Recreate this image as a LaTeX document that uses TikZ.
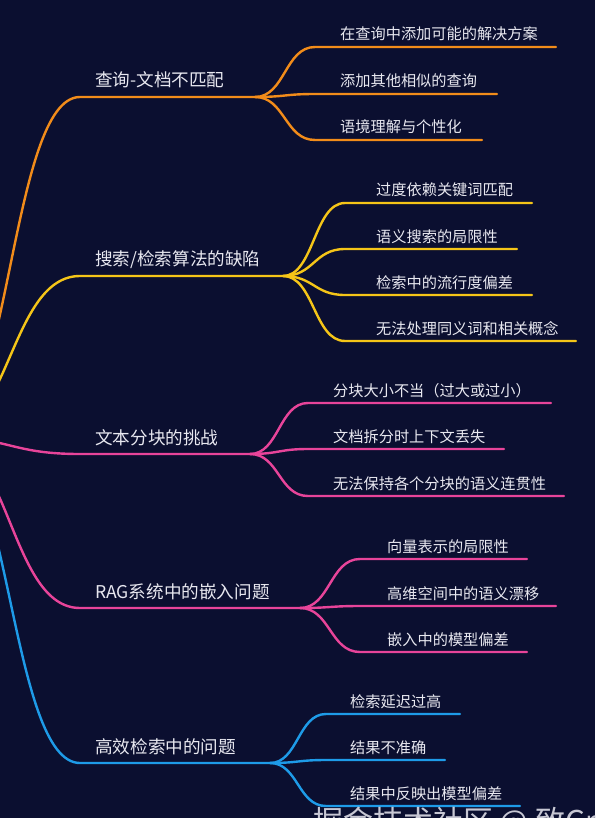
\documentclass[tikz,border=0pt]{standalone}
\usepackage{fontspec}
\newfontfamily\cjk{Noto Sans CJK SC}
\definecolor{grund}{HTML}{0B0F30}
\definecolor{schrift}{HTML}{E8E8F0}
\definecolor{astorange}{HTML}{F28C1A}
\definecolor{astgelb}{HTML}{F5C518}
\definecolor{astrosa}{HTML}{E8449A}
\definecolor{astblau}{HTML}{1E9BE8}

\begin{document}
\begin{tikzpicture}[x=1pt,y=-1pt,
    ast/.style={line width=2.4pt,line cap=round},
    thema/.style={anchor=base west,inner sep=0pt,text=schrift,font=\cjk\fontsize{17.6}{20}\selectfont},
    punkt/.style={anchor=base west,inner sep=0pt,text=schrift,font=\cjk\fontsize{15.2}{17}\selectfont}]
  \fill[grund] (0,0) rectangle (595,818);
  \useasboundingbox (0,0) rectangle (595,818);
  \clip (0,0) rectangle (595,818);
  \coordinate (wurzel) at (-60,437);

  % Ast 1: Anfrage
  \coordinate (q0) at (80,97);
  \coordinate (q) at (255,97);
  \node[thema] (qt) at (95,87) {查询-文档不匹配};
  \draw[ast,astorange] (wurzel) .. controls (10,437) and (10,97) .. (q0) -- (q);
  \foreach \i/\y/\e/\t in {1/47/556/在查询中添加可能的解决方案,2/94/497/添加其他相似的查询,3/140/482/语境理解与个性化} {
    \coordinate (qa\i) at (315,\y);
    \coordinate (qe\i) at (\e,\y);
    \node[punkt] (qt\i) at (340,\y-7) {\t};
    \draw[ast,astorange] (q) .. controls (285,97) and (285,\y) .. (qa\i) -- (qe\i);
  }

  % Ast 2: Suche
  \coordinate (s0) at (80,276);
  \coordinate (s) at (283,276);
  \node[thema] (st) at (95,265) {搜索/检索算法的缺陷};
  \draw[ast,astgelb] (wurzel) .. controls (10,437) and (10,276) .. (s0) -- (s);
  \foreach \i/\y/\e/\t in {1/203/532/过度依赖关键词匹配,2/249/517/语义搜索的局限性,3/295/532/检索中的流行度偏差,4/341/576/无法处理同义词和相关概念} {
    \coordinate (sa\i) at (345,\y);
    \coordinate (se\i) at (\e,\y);
    \node[punkt] (st\i) at (376,\y-7) {\t};
    \draw[ast,astgelb] (s) .. controls (314,276) and (314,\y) .. (sa\i) -- (se\i);
  }

  % Ast 3: Chunking
  \coordinate (t0) at (80,454);
  \coordinate (t) at (250,454);
  \node[thema] (tt) at (95,444) {文本分块的挑战};
  \draw[ast,astrosa] (wurzel) .. controls (10,437) and (10,454) .. (t0) -- (t);
  \foreach \i/\y/\e/\t in {1/403/551/分块大小不当（过大或过小）,2/449/504/文档拆分时上下文丢失,3/496/564/无法保持各个分块的语义连贯性} {
    \coordinate (ta\i) at (308,\y);
    \coordinate (te\i) at (\e,\y);
    \node[punkt] (tt\i) at (333,\y-7) {\t};
    \draw[ast,astrosa] (t) .. controls (279,454) and (279,\y) .. (ta\i) -- (te\i);
  }

  % Ast 4: Embedding
  \coordinate (r0) at (80,608);
  \coordinate (r) at (300,608);
  \node[thema] (rt) at (95,598) {RAG系统中的嵌入问题};
  \draw[ast,astrosa] (wurzel) .. controls (10,437) and (10,608) .. (r0) -- (r);
  \foreach \i/\y/\e/\t in {1/559/527/向量表示的局限性,2/606/556/高维空间中的语义漂移,3/652/527/嵌入中的模型偏差} {
    \coordinate (ra\i) at (360,\y);
    \coordinate (re\i) at (\e,\y);
    \node[punkt] (rt\i) at (387,\y-7) {\t};
    \draw[ast,astrosa] (r) .. controls (330,608) and (330,\y) .. (ra\i) -- (re\i);
  }

  % Ast 5: Effizienz
  \coordinate (e0) at (80,763);
  \coordinate (e) at (270,763);
  \node[thema] (et) at (95,753) {高效检索中的问题};
  \draw[ast,astblau] (wurzel) .. controls (10,437) and (10,763) .. (e0) -- (e);
  \foreach \i/\y/\e/\t in {1/714/460/检索延迟过高,2/760/445/结果不准确,3/806/520/结果中反映出模型偏差} {
    \coordinate (ea\i) at (326,\y);
    \coordinate (ee\i) at (\e,\y);
    \node[punkt] (et\i) at (350,\y-7) {\t};
    \draw[ast,astblau] (e) .. controls (298,763) and (298,\y) .. (ea\i) -- (ee\i);
  }

  % Wasserzeichen
  \node[anchor=base west,inner sep=0pt,text=schrift,opacity=0.85,font=\cjk\fontsize{30}{30}\selectfont] (wz) at (313,832) {掘金技术社区 @ 致Gre};
\end{tikzpicture}
\end{document}
